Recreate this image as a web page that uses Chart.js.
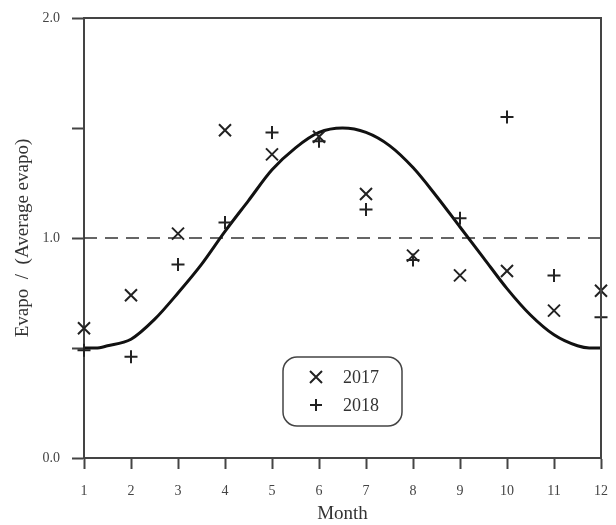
<!DOCTYPE html>
<html>
<head>
<meta charset="utf-8">
<script src="https://cdn.jsdelivr.net/npm/chart.js@4"></script>
<style>
  html, body { margin: 0; padding: 0; background: #fff; }
  canvas { display: block; }
</style>
</head>
<body>
<canvas id="evapoChart" width="616" height="525"></canvas>
<script>
const months = [1, 2, 3, 4, 5, 6, 7, 8, 9, 10, 11, 12];
const ratio2017 = [0.59, 0.74, 1.02, 1.49, 1.38, 1.46, 1.20, 0.92, 0.83, 0.85, 0.67, 0.76];
const ratio2018 = [0.49, 0.46, 0.88, 1.07, 1.48, 1.44, 1.13, 0.90, 1.09, 1.55, 0.83, 0.64];

// fitted curve
const curveMonths = [1, 1.25, 1.5, 2, 2.5, 3, 3.5, 4, 4.5, 5, 5.5, 6, 6.5, 7, 7.5, 8, 8.5, 9, 9.5, 10, 10.5, 11, 11.5, 11.75, 12];
const curveRatio  = [0.50, 0.50, 0.51, 0.54, 0.63, 0.75, 0.88, 1.03, 1.17, 1.31, 1.41, 1.48, 1.50, 1.48, 1.42, 1.32, 1.19, 1.05, 0.91, 0.77, 0.65, 0.56, 0.51, 0.50, 0.50];

const yTicks = [0, 0.5, 1, 1.5, 2];
const yTickLabels = ['0.0', '', '1.0', '', '2.0'];
const avgLevel = 1;

const ink = '#333';
const serif = '"Liberation Serif", serif';

const toPoints = (xs, ys) => xs.map((x, i) => ({ x: x, y: ys[i] }));

// top + right frame lines
const framePlugin = {
  id: 'frame',
  afterDraw(chart) {
    const { ctx, chartArea: a } = chart;
    ctx.save();
    ctx.strokeStyle = '#444';
    ctx.lineWidth = 2;
    ctx.beginPath();
    ctx.moveTo(a.left, a.top);
    ctx.lineTo(a.right, a.top);
    ctx.lineTo(a.right, a.bottom);
    ctx.stroke();
    ctx.restore();
  }
};

// boxed legend inside the plot
const legendBox = {
  id: 'legendBox',
  afterDraw(chart) {
    const ctx = chart.ctx;
    const x = 283, y = 357, w = 119, h = 69, r = 14;
    ctx.save();
    ctx.strokeStyle = '#444';
    ctx.lineWidth = 1.5;
    ctx.beginPath();
    ctx.roundRect(x, y, w, h, r);
    ctx.stroke();

    ctx.strokeStyle = '#222';
    ctx.lineWidth = 2;
    // x marker
    ctx.beginPath();
    ctx.moveTo(310, 371); ctx.lineTo(322, 383);
    ctx.moveTo(322, 371); ctx.lineTo(310, 383);
    // + marker
    ctx.moveTo(310, 405); ctx.lineTo(322, 405);
    ctx.moveTo(316, 399); ctx.lineTo(316, 411);
    ctx.stroke();

    ctx.fillStyle = ink;
    ctx.font = '18px ' + serif;
    ctx.textBaseline = 'middle';
    ctx.textAlign = 'left';
    ctx.fillText('2017', 343, 378);
    ctx.fillText('2018', 343, 406);
    ctx.restore();
  }
};

const ctx = document.getElementById('evapoChart').getContext('2d');

const chart = new Chart(ctx, {
  type: 'scatter',
  data: {
    datasets: [
      {
        label: '2017',
        data: toPoints(months, ratio2017),
        pointStyle: 'crossRot',
        pointRadius: 8.5,
        pointBorderWidth: 2,
        borderColor: '#222',
        backgroundColor: '#222',
        showLine: false,
        clip: false
      },
      {
        label: '2018',
        data: toPoints(months, ratio2018),
        pointStyle: 'cross',
        pointRadius: 6.5,
        pointBorderWidth: 2,
        borderColor: '#222',
        backgroundColor: '#222',
        showLine: false,
        clip: false
      },
      {
        label: 'curve',
        data: toPoints(curveMonths, curveRatio),
        showLine: true,
        borderColor: '#111',
        borderWidth: 3,
        pointRadius: 0,
        cubicInterpolationMode: 'monotone',
        clip: false
      },
      {
        label: 'average',
        data: [{ x: 1, y: avgLevel }, { x: 12, y: avgLevel }],
        showLine: true,
        borderColor: '#333',
        borderWidth: 1.5,
        borderDash: [13, 8],
        pointRadius: 0
      }
    ]
  },
  options: {
    responsive: false,
    devicePixelRatio: 1,
    animation: false,
    layout: { padding: { top: 18, right: 15, left: 0, bottom: 0 } },
    plugins: {
      legend: { display: false },
      tooltip: { enabled: false }
    },
    scales: {
      x: {
        type: 'linear',
        min: 1,
        max: 12,
        afterFit(scale) {
          scale.height = 67;
          scale.paddingLeft = 0;
          scale.paddingRight = 0;
        },
        ticks: {
          stepSize: 1,
          color: '#444',
          padding: 14,
          font: { family: serif, size: 14 }
        },
        grid: {
          drawOnChartArea: false,
          drawTicks: true,
          tickLength: 11,
          tickColor: '#444',
          tickWidth: 2
        },
        border: { display: true, color: '#444', width: 2 },
        title: {
          display: true,
          text: 'Month',
          color: ink,
          padding: { top: 0, bottom: 0 },
          font: { family: serif, size: 19 }
        }
      },
      y: {
        type: 'linear',
        min: 0,
        max: 2,
        afterFit(scale) {
          scale.width = 84;
          scale.paddingTop = 0;
          scale.paddingBottom = 0;
        },
        afterBuildTicks(scale) {
          scale.ticks = yTicks.map(v => ({ value: v }));
        },
        ticks: {
          color: '#444',
          padding: 12,
          font: { family: serif, size: 14 },
          callback(value) {
            const i = yTicks.indexOf(value);
            return i >= 0 ? yTickLabels[i] : '';
          }
        },
        grid: {
          drawOnChartArea: false,
          drawTicks: true,
          tickLength: 12,
          tickColor: '#444',
          tickWidth: 2
        },
        border: { display: true, color: '#444', width: 2 },
        title: {
          display: true,
          text: 'Evapo  /  (Average evapo)',
          color: ink,
          padding: { top: 12, bottom: 0 },
          font: { family: serif, size: 19 }
        }
      }
    }
  },
  plugins: [framePlugin, legendBox]
});
</script>
</body>
</html>
